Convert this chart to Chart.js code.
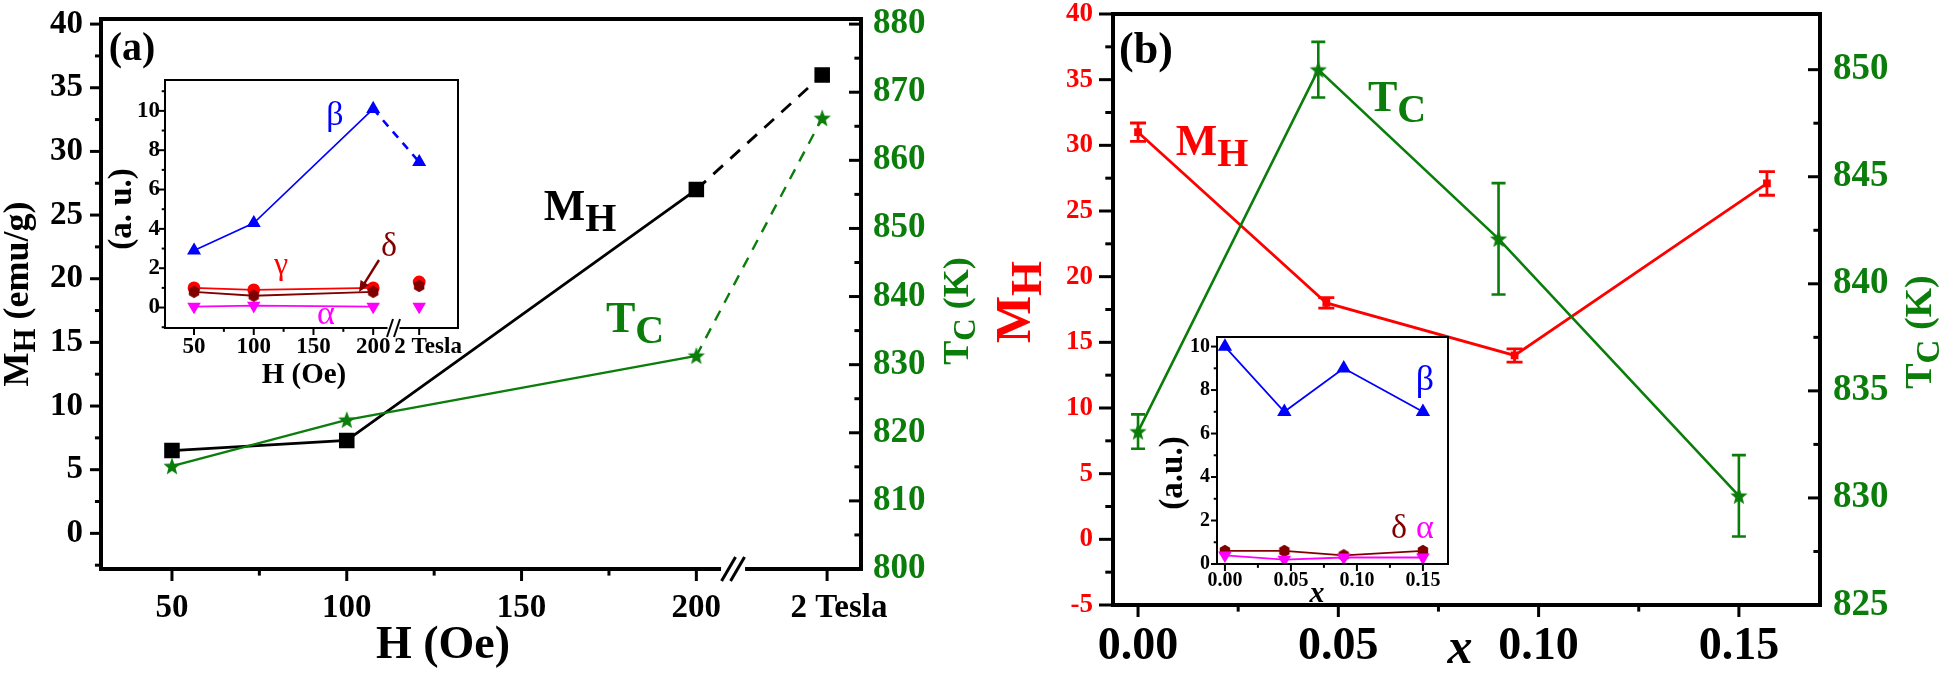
<!DOCTYPE html>
<html>
<head>
<meta charset="utf-8">
<script src="https://cdn.jsdelivr.net/npm/chart.js@4.4.1/dist/chart.umd.min.js"></script>
<style>
  html, body { margin: 0; padding: 0; background: #fff; overflow: hidden; }
  #fig { position: relative; width: 1946px; height: 680px; }
  #fig canvas { position: absolute; }
</style>
</head>
<body>
<div id="fig">
  <canvas id="mainA"></canvas>
  <canvas id="mainB"></canvas>
  <canvas id="insetA"></canvas>
  <canvas id="insetB"></canvas>
</div>
<script>
const SERIF = "'Liberation Serif', 'Times New Roman', serif";
const GREEN = '#0a7d0a', RED = '#ff0000', BLUE = '#0000ff', MAGENTA = '#ff00ff', MAROON = '#800000';

// (a) main panel
const fieldA = [50, 100, 200, 236];
const mhA = [6.5, 7.3, 27.0, 36.0];
const tcA = [815.1, 821.9, 831.3, 866.2];
const fieldTicksA = [50, 100, 150, 200, 237.4];
const fieldLabelPosA = [50, 100, 150, 200, 240.8];
const fieldLabelsA = ['50', '100', '150', '200', '2 Tesla'];
const mhTicksA = [0, 5, 10, 15, 20, 25, 30, 35, 40];
const tcTicksA = [800, 810, 820, 830, 840, 850, 860, 870, 880];

// (a) inset
const fieldInsetA = [50, 100, 200, 238.5];
const fieldInsetTicksA = [50, 100, 150, 200, 238.5];
const fieldInsetLabelPosA = [50, 100, 150, 200, 246];
const alphaA = [0.05, 0.1, 0.05, 0.05];
const betaA = [2.9, 4.3, 10.1, 7.4];
const gammaA = [1.0, 0.9, 1.0, 1.3];
const deltaA = [0.8, 0.6, 0.8, 1.1];
const auTicks = [0, 2, 4, 6, 8, 10];

// (b) main panel
const xMhB = [0, 0.047, 0.094, 0.157];
const mhB = [31.0, 18.0, 14.0, 27.1];
const mhErrB = [0.7, 0.4, 0.5, 0.9];
const xTcB = [0, 0.045, 0.09, 0.15];
const tcB = [833.1, 850.0, 842.1, 830.1];
const tcErrB = [0.8, 1.3, 2.6, 1.9];
const xTicksB = [0, 0.05, 0.10, 0.15];
const xLabelsB = ['0.00', '0.05', '0.10', '0.15'];
const mhTicksB = [-5, 0, 5, 10, 15, 20, 25, 30, 35, 40];
const tcTicksB = [825, 830, 835, 840, 845, 850];

// (b) inset
const xInsetB = [0, 0.045, 0.09, 0.15];
const betaB = [10, 7, 9, 7];
const deltaB = [0.6, 0.6, 0.4, 0.6];
const alphaB = [0.4, 0.2, 0.3, 0.3];

const pts = (xs, ys) => xs.map((x, i) => ({x, y: ys[i]}));

function minorTicks(major, lo, hi) {
  const step = major[1] - major[0], out = [];
  for (let v = major[0] - step / 2; v >= lo; v -= step) out.push(v);
  for (let v = major[0] + step / 2; v <= hi; v += step) out.push(v);
  return out;
}

function markImg(color, r, n, inner) {
  const c = document.createElement('canvas');
  c.width = c.height = Math.ceil(2 * r) + 2;
  const g = c.getContext('2d');
  const m = c.width / 2;
  g.fillStyle = color;
  g.beginPath();
  const k = inner ? 2 * n : n;
  for (let i = 0; i < k; i++) {
    const a = -Math.PI / 2 + i * 2 * Math.PI / k;
    const rr = inner && i % 2 ? r * inner : r;
    g.lineTo(m + rr * Math.cos(a), m + rr * 1.05 * Math.sin(a) + (inner ? r * 0.08 : 0));
  }
  g.closePath();
  g.fill();
  return c;
}

function place(id, left, top, width, height) {
  const c = document.getElementById(id);
  c.style.left = left + 'px';
  c.style.top = top + 'px';
  c.width = width; c.height = height;
  c.style.width = width + 'px'; c.style.height = height + 'px';
  return {el: c, left, top, w: width, h: height};
}

function axis(o) {
  const pos = o.labelPos || o.ticks;
  return {
    type: 'linear', position: o.pos, min: o.min, max: o.max,
    grid: {display: false, drawTicks: false}, border: {display: false},
    afterBuildTicks: s => { s.ticks = pos.map(v => ({value: v})); },
    ticks: {
      autoSkip: false, maxRotation: 0, padding: o.pad, color: o.color || '#000',
      font: {family: SERIF, weight: 'bold', size: o.font, lineHeight: 1},
      callback: (v, i) => o.labels ? o.labels[i] : String(o.ticks[i])
    },
    afterFit: s => {
      if (o.pos === 'bottom') s.height = o.size; else s.width = o.size;
      s.paddingTop = s.paddingBottom = s.paddingLeft = s.paddingRight = 0;
    }
  };
}

function drawRich(ctx, tx, x, y) {
  ctx.save();
  ctx.fillStyle = tx.c;
  ctx.textBaseline = 'middle';
  ctx.textAlign = 'left';
  const font = p => (tx.it ? 'italic ' : '') + (tx.w || 'bold') + ' ' + p[1] + 'px ' + SERIF;
  let w = 0;
  tx.t.forEach(p => { ctx.font = font(p); w += ctx.measureText(p[0]).width; });
  ctx.translate(x, y);
  if (tx.rot) ctx.rotate(-Math.PI / 2);
  let cx = -w / 2;
  tx.t.forEach(p => { ctx.font = font(p); ctx.fillText(p[0], cx, p[2] || 0); cx += ctx.measureText(p[0]).width; });
  ctx.restore();
}

function makeDecor(id, box, spec) {
  const toX = x => x - box.left, toY = y => y - box.top;
  return {
    id,
    afterDatasetsDraw(chart) {
      const ctx = chart.ctx;
      (spec.errorBars || []).forEach(e => {
        const xs = chart.scales.x, ys = chart.scales[e.axis];
        ctx.save();
        ctx.strokeStyle = e.color;
        ctx.lineWidth = e.width;
        e.xs.forEach((xv, i) => {
          const px = xs.getPixelForValue(xv);
          const hi = ys.getPixelForValue(e.ys[i] + e.err[i]);
          const lo = ys.getPixelForValue(e.ys[i] - e.err[i]);
          ctx.beginPath();
          ctx.moveTo(px, hi); ctx.lineTo(px, lo);
          ctx.moveTo(px - e.cap, hi); ctx.lineTo(px + e.cap, hi);
          ctx.moveTo(px - e.cap, lo); ctx.lineTo(px + e.cap, lo);
          ctx.stroke();
        });
        ctx.restore();
      });
    },
    afterDraw(chart) {
      const ctx = chart.ctx, a = chart.chartArea;
      ctx.save();
      const f = spec.frame;
      ctx.strokeStyle = '#000';
      ctx.lineWidth = f;
      ctx.strokeRect(a.left, a.top, a.right - a.left, a.bottom - a.top);

      spec.ticks.forEach(t => {
        const sc = chart.scales[t.scale];
        ctx.strokeStyle = '#000';
        ctx.lineWidth = t.width;
        const one = (v, len) => {
          const p = sc.getPixelForValue(v);
          ctx.beginPath();
          if (sc.position === 'bottom') {
            ctx.moveTo(p, a.bottom); ctx.lineTo(p, a.bottom + len);
          } else {
            const x0 = sc.position === 'left' ? a.left : a.right;
            let dir = sc.position === 'left' ? -1 : 1;
            if (t.inward) dir = -dir;
            ctx.moveTo(x0, p); ctx.lineTo(x0 + dir * len, p);
          }
          ctx.stroke();
        };
        t.major.forEach(v => one(v, t.len));
        t.minor.forEach(v => one(v, t.len * 0.55));
      });

      (spec.breaks || []).forEach(b => {
        const px = chart.scales.x.getPixelForValue(b.value), py = a.bottom;
        ctx.fillStyle = '#fff';
        ctx.fillRect(px - b.gap / 2, py - f, b.gap, f * 2);
        ctx.strokeStyle = '#000'; ctx.lineWidth = b.lw;
        [-1, 1].forEach(k => {
          const cx = px + k * b.sep / 2;
          ctx.beginPath();
          ctx.moveTo(cx - b.dx, py + b.dy); ctx.lineTo(cx + b.dx, py - b.dy);
          ctx.stroke();
        });
      });

      (spec.arrows || []).forEach(ar => {
        const [x1, y1] = ar.from, [x2, y2] = ar.to;
        const L = Math.hypot(x2 - x1, y2 - y1), ux = (x2 - x1) / L, uy = (y2 - y1) / L;
        ctx.strokeStyle = ar.color; ctx.fillStyle = ar.color; ctx.lineWidth = ar.width;
        ctx.beginPath(); ctx.moveTo(toX(x1), toY(y1)); ctx.lineTo(toX(x2 - ux * 6), toY(y2 - uy * 6)); ctx.stroke();
        ctx.beginPath();
        ctx.moveTo(toX(x2), toY(y2));
        ctx.lineTo(toX(x2 - ux * 11 - uy * 5), toY(y2 - uy * 11 + ux * 5));
        ctx.lineTo(toX(x2 - ux * 11 + uy * 5), toY(y2 - uy * 11 - ux * 5));
        ctx.closePath(); ctx.fill();
      });

      spec.texts.forEach(tx => drawRich(ctx, tx, toX(tx.x), toY(tx.y)));
      ctx.restore();
    }
  };
}

const base = (padTop, padRight) => ({
  responsive: false, animation: false, events: [],
  layout: {padding: {top: padTop, right: padRight || 0, left: 0, bottom: 0}},
  plugins: {legend: {display: false}, tooltip: {enabled: false}}
});

const lastDash = dash => ({borderDash: c => c.p1DataIndex === 3 ? dash : undefined});
const lastHidden = {borderColor: c => c.p1DataIndex === 3 ? 'rgba(0,0,0,0)' : undefined};

// ---------- panel (a) ----------
const boxA = place('mainA', 0, 0, 980, 680);
new Chart(boxA.el, {
  type: 'line',
  data: {datasets: [
    {data: pts(fieldA, tcA), yAxisID: 'y2', borderColor: GREEN, backgroundColor: GREEN, borderWidth: 2.4,
     pointStyle: markImg(GREEN, 9, 5, 0.42), pointRadius: 7, segment: lastDash([11, 9])},
    {data: pts(fieldA, mhA), yAxisID: 'y', borderColor: '#000', backgroundColor: '#000', borderWidth: 2.8,
     pointStyle: 'rect', pointRadius: 9, segment: lastDash([13, 10])}
  ]},
  options: Object.assign(base(19), {scales: {
    x: axis({pos: 'bottom', min: 29.7, max: 247.1, ticks: fieldTicksA, labelPos: fieldLabelPosA, labels: fieldLabelsA, font: 33, pad: 23, size: 680 - 569}),
    y: axis({pos: 'left', min: -2.8, max: 40.4, ticks: mhTicksA, font: 33, pad: 18, size: 101}),
    y2: axis({pos: 'right', min: 800, max: 880.75, ticks: tcTicksA, font: 35, pad: 12, color: GREEN, size: 980 - 861})
  }}),
  plugins: [makeDecor('decorA', boxA, {
    frame: 4,
    ticks: [
      {scale: 'x', major: fieldTicksA, minor: minorTicks(fieldTicksA.slice(0, 4), 30, 200), len: 12, width: 3},
      {scale: 'y', major: mhTicksA, minor: minorTicks(mhTicksA, -2.8, 40.4), len: 11, width: 3},
      {scale: 'y2', major: tcTicksA, minor: minorTicks(tcTicksA, 800, 880.7), len: 12, width: 3, inward: true}
    ],
    breaks: [{value: 210.5, gap: 24, sep: 9, dx: 7, dy: 12, lw: 3}],
    texts: [
      {t: [['(a)', 40]], x: 132, y: 50, c: '#000'},
      {t: [['M', 36], ['H', 31, 8], [' (emu/g)', 36]], x: 19, y: 294, c: '#000', rot: true},
      {t: [['T', 36], ['C', 31, 8], [' (K)', 36]], x: 959, y: 311, c: GREEN, rot: true},
      {t: [['H (Oe)', 46]], x: 443, y: 646, c: '#000'},
      {t: [['M', 44], ['H', 40, 12]], x: 580, y: 209, c: '#000'},
      {t: [['T', 44], ['C', 40, 12]], x: 635, y: 321, c: GREEN}
    ]
  })]
});

// ---------- inset of (a) ----------
const boxIA = place('insetA', 95, 60, 380, 345);
new Chart(boxIA.el, {
  type: 'line',
  data: {datasets: [
    {data: pts(fieldInsetA, deltaA), borderColor: MAROON, backgroundColor: MAROON, borderWidth: 1.8,
     pointStyle: markImg(MAROON, 6, 6), pointRadius: 6, segment: lastHidden},
    {data: pts(fieldInsetA, gammaA), borderColor: RED, backgroundColor: RED, borderWidth: 1.8,
     pointStyle: 'circle', pointRadius: 5.5, segment: lastHidden},
    {data: pts(fieldInsetA, alphaA), borderColor: MAGENTA, backgroundColor: MAGENTA, borderWidth: 1.8,
     pointStyle: 'triangle', pointRotation: 180, pointRadius: 6, segment: lastHidden},
    {data: pts(fieldInsetA, betaA), borderColor: BLUE, backgroundColor: BLUE, borderWidth: 1.6,
     pointStyle: 'triangle', pointRadius: 6.5,
     segment: {borderDash: c => c.p1DataIndex === 3 ? [8, 7] : undefined, borderWidth: c => c.p1DataIndex === 3 ? 2.6 : undefined}}
  ]},
  options: Object.assign(base(80 - 60, 475 - 458), {scales: {
    x: axis({pos: 'bottom', min: 25.7, max: 271, ticks: fieldInsetTicksA, labelPos: fieldInsetLabelPosA, labels: fieldLabelsA, font: 23, pad: 8, size: 405 - 328}),
    y: axis({pos: 'left', min: -1.04, max: 11.57, ticks: auTicks, font: 23, pad: 5, size: 165 - 95})
  }}),
  plugins: [makeDecor('decorIA', boxIA, {
    frame: 2,
    ticks: [
      {scale: 'x', major: fieldInsetTicksA, minor: minorTicks(fieldInsetTicksA.slice(0, 4), 26, 200), len: 7, width: 2},
      {scale: 'y', major: auTicks, minor: minorTicks(auTicks, -1.04, 11.5), len: 6, width: 2}
    ],
    breaks: [{value: 217, gap: 12, sep: 7, dx: 3, dy: 9, lw: 2}],
    arrows: [{from: [379, 260], to: [359, 292], color: MAROON, width: 2.4}],
    texts: [
      {t: [['β', 34]], x: 335, y: 116, c: BLUE, w: 'normal'},
      {t: [['γ', 32]], x: 281, y: 266, c: RED, w: 'normal'},
      {t: [['δ', 34]], x: 389, y: 247, c: MAROON, w: 'normal'},
      {t: [['α', 34]], x: 326, y: 315, c: MAGENTA, w: 'normal'},
      {t: [['H (Oe)', 29]], x: 304, y: 376, c: '#000'},
      {t: [['(a. u.)', 33]], x: 122, y: 209, c: '#000', rot: true}
    ]
  })]
});

// ---------- panel (b) ----------
const boxB = place('mainB', 980, 0, 966, 680);
new Chart(boxB.el, {
  type: 'line',
  data: {datasets: [
    {data: pts(xTcB, tcB), yAxisID: 'y2', borderColor: GREEN, backgroundColor: GREEN, borderWidth: 2.6,
     pointStyle: markImg(GREEN, 9, 5, 0.42), pointRadius: 7},
    {data: pts(xMhB, mhB), yAxisID: 'y', borderColor: RED, backgroundColor: RED, borderWidth: 2.8,
     pointStyle: 'rect', pointRadius: 3.5}
  ]},
  options: Object.assign(base(14), {scales: {
    x: axis({pos: 'bottom', min: -0.00625, max: 0.17025, ticks: xTicksB, labels: xLabelsB, font: 46, pad: 19, size: 680 - 605}),
    y: axis({pos: 'left', min: -5, max: 40, ticks: mhTicksB, font: 27, pad: 20, color: RED, size: 1113 - 980}),
    y2: axis({pos: 'right', min: 825, max: 852.6, ticks: tcTicksB, font: 37, pad: 13, color: GREEN, size: 1946 - 1820})
  }}),
  plugins: [makeDecor('decorB', boxB, {
    frame: 4,
    ticks: [
      {scale: 'x', major: xTicksB, minor: minorTicks(xTicksB, -0.006, 0.17), len: 12, width: 3},
      {scale: 'y', major: mhTicksB, minor: minorTicks(mhTicksB, -5, 40), len: 14, width: 3},
      {scale: 'y2', major: tcTicksB, minor: minorTicks(tcTicksB, 825, 852), len: 12, width: 3, inward: true}
    ],
    errorBars: [
      {axis: 'y', xs: xMhB, ys: mhB, err: mhErrB, color: RED, cap: 8, width: 2.8},
      {axis: 'y2', xs: xTcB, ys: tcB, err: tcErrB, color: GREEN, cap: 7, width: 2.6}
    ],
    texts: [
      {t: [['(b)', 44]], x: 1146, y: 52, c: '#000'},
      {t: [['M', 50], ['H', 45, 12]], x: 1017, y: 302, c: RED, rot: true},
      {t: [['T', 38], ['C', 33, 9], [' (K)', 38]], x: 1921, y: 332, c: GREEN, rot: true},
      {t: [['M', 44], ['H', 40, 12]], x: 1212, y: 144, c: RED},
      {t: [['T', 44], ['C', 40, 12]], x: 1397, y: 100, c: GREEN},
      {t: [['x', 50]], x: 1460, y: 650, c: '#000', it: true}
    ]
  })]
});

// ---------- inset of (b) ----------
const boxIB = place('insetB', 1150, 325, 310, 290);
new Chart(boxIB.el, {
  type: 'line',
  data: {datasets: [
    {data: pts(xInsetB, alphaB), borderColor: MAGENTA, backgroundColor: MAGENTA, borderWidth: 1.8,
     pointStyle: 'triangle', pointRotation: 180, pointRadius: 6},
    {data: pts(xInsetB, deltaB), borderColor: MAROON, backgroundColor: MAROON, borderWidth: 1.8,
     pointStyle: markImg(MAROON, 6, 6), pointRadius: 6},
    {data: pts(xInsetB, betaB), borderColor: BLUE, backgroundColor: BLUE, borderWidth: 1.8,
     pointStyle: 'triangle', pointRadius: 6.5}
  ]},
  options: Object.assign(base(337 - 325, 1460 - 1448), {scales: {
    x: axis({pos: 'bottom', min: -0.006, max: 0.169, ticks: xTicksB, labels: xLabelsB, font: 20, pad: 7, size: 615 - 564}),
    y: axis({pos: 'left', min: 0, max: 10.44, ticks: auTicks, font: 20, pad: 7, size: 1217 - 1150})
  }}),
  plugins: [makeDecor('decorIB', boxIB, {
    frame: 2,
    ticks: [
      {scale: 'x', major: xTicksB, minor: minorTicks(xTicksB, -0.006, 0.168), len: 7, width: 2},
      {scale: 'y', major: auTicks, minor: minorTicks(auTicks, 0, 10.4), len: 6, width: 2}
    ],
    texts: [
      {t: [['β', 36]], x: 1425, y: 381, c: BLUE, w: 'normal'},
      {t: [['δ', 34]], x: 1399, y: 529, c: MAROON, w: 'normal'},
      {t: [['α', 34]], x: 1425, y: 529, c: MAGENTA, w: 'normal'},
      {t: [['(a.u.)', 33]], x: 1173, y: 473, c: '#000', rot: true},
      {t: [['x', 30]], x: 1317, y: 594, c: '#000', it: true}
    ]
  })]
});
</script>
</body>
</html>
